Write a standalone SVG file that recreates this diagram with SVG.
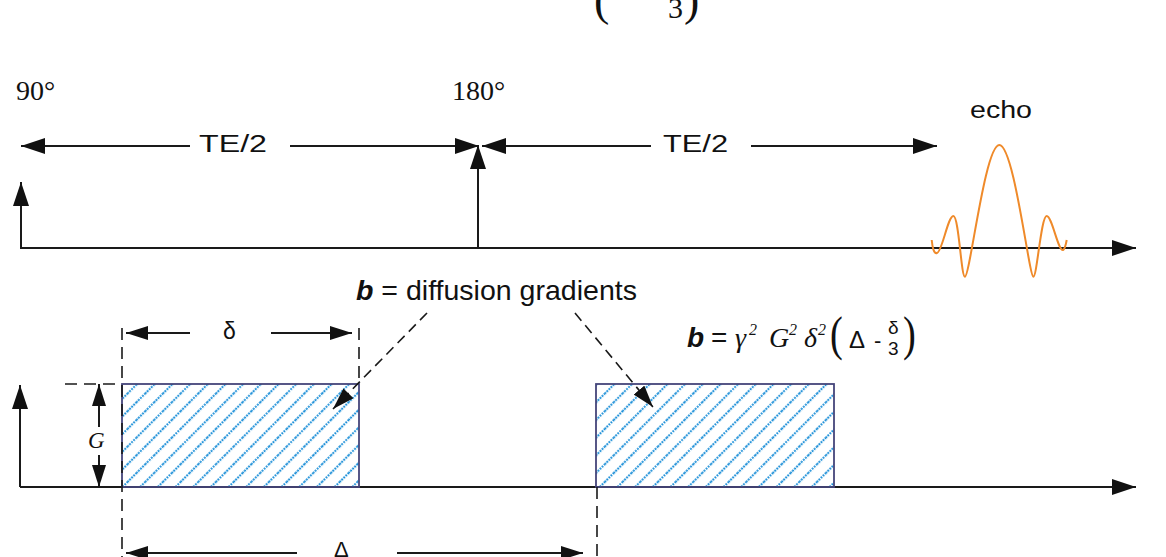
<svg xmlns="http://www.w3.org/2000/svg" width="1166" height="557" viewBox="0 0 1166 557">
<style>
.ln{stroke:#1a1a1a;stroke-width:2;fill:none}
.dash{stroke:#1a1a1a;stroke-width:1.6;fill:none;stroke-dasharray:12 7}
.lead{stroke:#1a1a1a;stroke-width:1.6;fill:none;stroke-dasharray:10 6}
.sans{font-family:"Liberation Sans",Arial,sans-serif;fill:#111}
.serif{font-family:"Liberation Serif","Times New Roman",serif;fill:#111}
.grad{fill:url(#hatch);stroke:#45457a;stroke-width:1.8}
</style>
<defs>
<marker id="ah" viewBox="0 0 24 16" refX="24" refY="8" markerWidth="24" markerHeight="16" markerUnits="userSpaceOnUse" orient="auto"><path d="M0,0 L24,8 L0,16 z" fill="#111"/></marker>
<marker id="as" viewBox="0 0 22 14" refX="22" refY="7" markerWidth="22" markerHeight="14" markerUnits="userSpaceOnUse" orient="auto"><path d="M0,0 L22,7 L0,14 z" fill="#111"/></marker>
<pattern id="hatch" patternUnits="userSpaceOnUse" width="12.5" height="12.5" patternTransform="rotate(45)">
<line x1="6" y1="0" x2="6" y2="12.5" stroke="#1a8ed8" stroke-width="1.9" stroke-dasharray="2 0.9"/>
</pattern>
</defs>

<g id="cutoff-equation">
<text class="serif" x="594" y="15" font-size="46">(</text>
<text class="serif" x="668" y="18" font-size="30">3</text>
<text class="serif" x="684" y="15" font-size="46">)</text>
</g>

<g id="rf-axis">
<line class="ln" x1="20" y1="248" x2="1136" y2="248" marker-end="url(#ah)"/>
<line class="ln" x1="21" y1="248" x2="21" y2="182" marker-end="url(#ah)"/>
</g>

<g id="pulse-90">
<text class="serif" x="16" y="100" font-size="28">90°</text>
</g>

<g id="pulse-180">
<line class="ln" x1="478" y1="248" x2="478" y2="145" marker-end="url(#ah)"/>
<text class="serif" x="452" y="100" font-size="28">180°</text>
</g>

<g id="te-first">
<line class="ln" x1="190" y1="146" x2="21" y2="146" marker-end="url(#ah)"/>
<line class="ln" x1="290" y1="146" x2="479" y2="146" marker-end="url(#ah)"/>
<text class="sans" x="199" y="152" font-size="23" textLength="68" lengthAdjust="spacingAndGlyphs">TE/2</text>
</g>

<g id="te-second">
<line class="ln" x1="651" y1="146" x2="482" y2="146" marker-end="url(#ah)"/>
<line class="ln" x1="751" y1="146" x2="937" y2="146" marker-end="url(#ah)"/>
<text class="sans" x="663" y="152" font-size="23" textLength="65" lengthAdjust="spacingAndGlyphs">TE/2</text>
</g>

<g id="echo">
<text class="sans" x="970" y="118" font-size="23" textLength="62" lengthAdjust="spacingAndGlyphs">echo</text>
<path d="M931.7,240 C932.5,248 934,254 937,253 C942,252 948,216 953.3,216 C959,216 961,277 965,276.7 C970,276 985,145 999.3,145 C1014,145 1029,276 1033.3,276.7 C1037,277 1041,216 1046.7,216 C1052,216 1058,251 1063,250 C1065,249 1066,244 1066.7,240" fill="none" stroke="#ef8a2a" stroke-width="2"/>
</g>

<g id="gradient-axis">
<line class="ln" x1="20" y1="487" x2="1136" y2="487" marker-end="url(#ah)"/>
<line class="ln" x1="20" y1="487" x2="20" y2="385" marker-end="url(#ah)"/>
</g>

<g id="gradient-1">
<rect class="grad" x="122" y="384" width="237" height="103"/>
</g>

<g id="gradient-2">
<rect class="grad" x="596" y="384" width="238" height="103"/>
</g>

<g id="dimension-G">
<line class="dash" x1="65" y1="384" x2="122" y2="384"/>
<line class="ln" x1="99" y1="427" x2="99" y2="384" marker-end="url(#as)"/>
<line class="ln" x1="99" y1="455" x2="99" y2="487" marker-end="url(#as)"/>
<text class="serif" x="88" y="448" font-size="23" font-style="italic">G</text>
</g>

<g id="dimension-delta">
<line class="dash" x1="122" y1="328" x2="122" y2="557"/>
<line class="dash" x1="359" y1="328" x2="359" y2="384"/>
<line class="ln" x1="190" y1="333" x2="126" y2="333" marker-end="url(#as)"/>
<line class="ln" x1="271" y1="333" x2="352" y2="333" marker-end="url(#as)"/>
<text class="sans" x="223" y="339" font-size="23">δ</text>
</g>

<g id="dimension-Delta">
<line class="dash" x1="597" y1="487" x2="597" y2="557"/>
<line class="ln" x1="297" y1="553" x2="126" y2="553" marker-end="url(#as)"/>
<line class="ln" x1="397" y1="553" x2="583" y2="553" marker-end="url(#as)"/>
<text class="sans" x="334" y="557" font-size="22">Δ</text>
</g>

<g id="label-b">
<text class="sans" x="356" y="300" font-size="28" textLength="281" lengthAdjust="spacingAndGlyphs"><tspan font-weight="bold" font-style="italic">b</tspan> = diffusion gradients</text>
</g>

<g id="formula">
<text class="sans" x="687" y="347" font-size="28" font-weight="bold" font-style="italic">b</text>
<text class="sans" x="711" y="347" font-size="28">=</text>
<text class="serif" x="735" y="347" font-size="28" font-style="italic">γ</text>
<text class="serif" x="749" y="335" font-size="16" font-style="italic">2</text>
<text class="serif" x="769" y="347" font-size="28" font-style="italic">G</text>
<text class="serif" x="789" y="335" font-size="16" font-style="italic">2</text>
<text class="serif" x="804" y="347" font-size="28" font-style="italic">δ</text>
<text class="serif" x="818" y="335" font-size="16" font-style="italic">2</text>
<text class="serif" x="830" y="350" font-size="48" transform="translate(830 0) scale(0.8 1) translate(-830 0)">(</text>
<text class="sans" x="849" y="348" font-size="24">Δ</text>
<text class="sans" x="874" y="348" font-size="22">-</text>
<text class="sans" x="888" y="334" font-size="19">δ</text>
<text class="sans" x="888" y="355" font-size="19">3</text>
<text class="serif" x="903" y="350" font-size="48" transform="translate(903 0) scale(0.8 1) translate(-903 0)">)</text>
</g>

<g id="connectors">
<line class="lead" x1="427" y1="313" x2="333" y2="409" marker-end="url(#as)"/>
<line class="lead" x1="575" y1="313" x2="653" y2="407" marker-end="url(#as)"/>
</g>
</svg>
